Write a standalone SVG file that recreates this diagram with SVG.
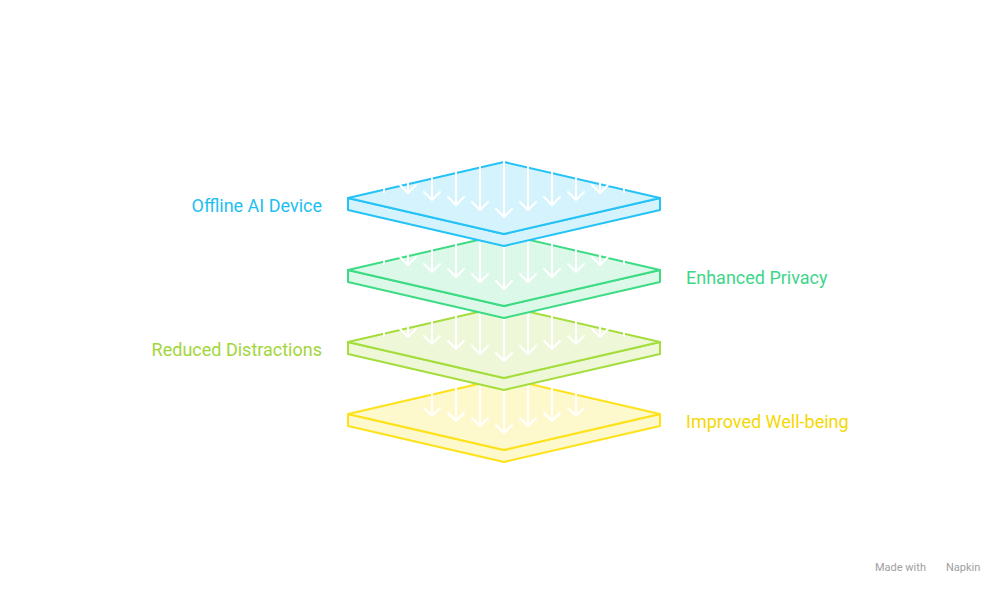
<svg xmlns="http://www.w3.org/2000/svg" width="1008" height="594" viewBox="0 0 1008 594">
<style>
.lbl{font-family:Roboto,"Liberation Sans",sans-serif;font-size:18px}
.ar{stroke:#fff;stroke-width:2;fill:none;stroke-linecap:round;stroke-linejoin:round}
.face{stroke-width:2;stroke-linejoin:round}
</style>
<defs>
<g id="slab"><path class="face" d="M348,36 L504,72 L660,36 L660,48 L504,84 L348,48 Z"/><path class="face" d="M348,36 L504,0 L660,36 L504,72 Z"/></g>
<g id="arrows9"><path d="M384,-10V30 M408,-10V31 M400,23 L408,31 L416,23 M432,-10V38 M424,30 L432,38 L440,30 M456,-10V43 M448,35 L456,43 L464,35 M480,-10V48 M472,40 L480,48 L488,40 M504,-10V55 M496,47 L504,55 L512,47 M528,-10V48 M520,40 L528,48 L536,40 M552,-10V43 M544,35 L552,43 L560,35 M576,-10V38 M568,30 L576,38 L584,30 M600,-10V31 M592,23 L600,31 L608,23 M624,-10V30"/></g>
<g id="arrows7"><path d="M432,-10V38 M424,30 L432,38 L440,30 M456,-10V43 M448,35 L456,43 L464,35 M480,-10V48 M472,40 L480,48 L488,40 M504,-10V55 M496,47 L504,55 L512,47 M528,-10V48 M520,40 L528,48 L536,40 M552,-10V43 M544,35 L552,43 L560,35 M576,-10V38 M568,30 L576,38 L584,30"/></g>
</defs>
<rect width="1008" height="594" fill="#fff"/>
<g id="layer4"><use href="#slab" y="378" fill="#fef9cc" stroke="#fde21a"/><use href="#arrows7" y="378" class="ar"/></g>
<g id="layer3"><use href="#slab" y="306" fill="#eef8d8" stroke="#a4dd3c"/><use href="#arrows9" y="306" class="ar"/></g>
<g id="layer2"><use href="#slab" y="234" fill="#dcf8e9" stroke="#3ddc84"/><use href="#arrows9" y="234" class="ar"/></g>
<g id="layer1"><use href="#slab" y="162" fill="#d4f3fc" stroke="#25c2f5"/><use href="#arrows9" y="162" class="ar"/></g>
<g id="connectors"/>
<g id="labels">
<text class="lbl" x="322" y="212" text-anchor="end" fill="#1ec0f0">Offline AI Device</text>
<text class="lbl" x="686" y="284" fill="#3dd68a">Enhanced Privacy</text>
<text class="lbl" x="322" y="356" text-anchor="end" fill="#a2d63a">Reduced Distractions</text>
<text class="lbl" x="686" y="428" fill="#f5d800">Improved Well-being</text>
</g>
<text x="875" y="571" font-family="Roboto,'Liberation Sans',sans-serif" font-size="11" fill="#a0a0a0">Made with</text>
<text x="946" y="571" font-family="Roboto,'Liberation Sans',sans-serif" font-size="11" fill="#a0a0a0">Napkin</text>
</svg>
